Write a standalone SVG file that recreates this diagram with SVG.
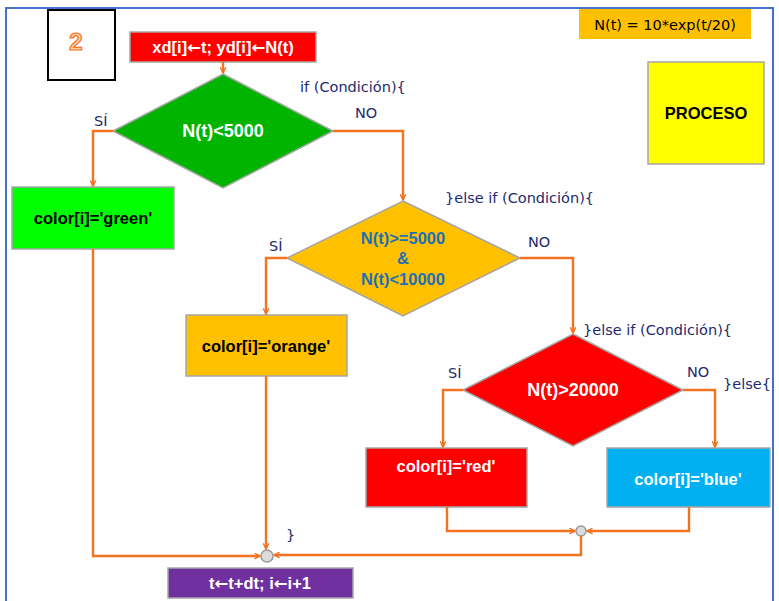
<svg xmlns="http://www.w3.org/2000/svg" width="779" height="601" viewBox="0 0 779 601">
<style>
.shape{stroke:#a6a6a6;stroke-width:1.5}
.lbl{font-family:"Liberation Sans",Arial,sans-serif;font-weight:bold;font-size:16.5px;text-anchor:middle;dominant-baseline:central}
.big{font-size:18px}
.arw{font-family:"DejaVu Sans",sans-serif;font-weight:bold}
.note{font-family:"DejaVu Sans","Noto Sans",sans-serif;font-size:14.5px;fill:#1f2a6e}
.con{fill:none;stroke:#f47320;stroke-width:2.4}
</style>
<defs>
<marker id="ar" viewBox="0 0 10 10" refX="9" refY="5" markerWidth="7" markerHeight="7" orient="auto" markerUnits="userSpaceOnUse">
<polyline points="1,1 9,5 1,9" fill="none" stroke="#f47320" stroke-width="2"/>
</marker>
</defs>
<rect x="0" y="0" width="779" height="601" fill="#ffffff"/>
<rect x="6" y="8" width="767" height="610" fill="none" stroke="#4472c4" stroke-width="2"/>

<g id="num">
<rect x="48" y="10" width="67" height="70" fill="#fff" stroke="#000" stroke-width="2"/>
<text x="76" y="41" font-family="Liberation Sans,Arial,sans-serif" font-weight="bold" font-size="24" text-anchor="middle" dominant-baseline="central" fill="#fbd0a8" stroke="#f47320" stroke-width="1.2">2</text>
</g>

<g id="formula">
<rect x="579" y="9" width="172" height="30" fill="#ffc000"/>
<text x="665" y="25" font-family="DejaVu Sans,sans-serif" font-size="14.5" text-anchor="middle" dominant-baseline="central" fill="#000">N(t) = 10*exp(t/20)</text>
</g>

<g id="proceso">
<rect class="shape" x="648" y="62" width="116" height="102" fill="#ffff00"/>
<text class="lbl" x="706" y="113" fill="#000">PROCESO</text>
</g>

<g id="start">
<rect class="shape" x="130" y="32" width="186" height="30" fill="#ff0000"/>
<text class="lbl" x="223" y="47" fill="#fff">xd[i]<tspan class="arw">←</tspan>t; yd[i]<tspan class="arw">←</tspan>N(t)</text>
</g>

<g id="d1">
<polygon class="shape" points="223,74 333,131 223,188 113,131" fill="#00b400"/>
<text class="lbl big" x="223" y="131" fill="#fff">N(t)&lt;5000</text>
</g>

<g id="green">
<rect class="shape" x="12" y="187" width="162" height="62" fill="#00ff00"/>
<text class="lbl" x="93" y="218" fill="#000">color[i]='green'</text>
</g>

<g id="d2">
<polygon class="shape" points="403,201 520,258 403,316 287,258" fill="#ffc000"/>
<text class="lbl" x="403" y="238" fill="#1f6fb5">N(t)&gt;=5000</text>
<text class="lbl" x="403" y="258" fill="#1f6fb5">&amp;</text>
<text class="lbl" x="403" y="279" fill="#1f6fb5">N(t)&lt;10000</text>
</g>

<g id="orange">
<rect class="shape" x="186" y="315" width="161" height="61" fill="#ffc000"/>
<text class="lbl" x="266" y="346" fill="#000">color[i]='orange'</text>
</g>

<g id="d3">
<polygon class="shape" points="573,334 683,390 573,446 463,390" fill="#ff0000"/>
<text class="lbl big" x="573" y="390" fill="#fff">N(t)&gt;20000</text>
</g>

<g id="red">
<rect class="shape" x="366" y="448" width="161" height="59" fill="#ff0000"/>
<text class="lbl" x="446" y="466" fill="#fff">color[i]='red'</text>
</g>

<g id="blue">
<rect class="shape" x="607" y="448" width="163" height="59" fill="#00b0f0"/>
<text class="lbl" x="688" y="479" fill="#fff">color[i]='blue'</text>
</g>

<g id="join2">
<circle cx="581" cy="531" r="5" fill="#dcdcdc" stroke="#999" stroke-width="1.5"/>
</g>
<g id="join1">
<circle cx="267" cy="556" r="6" fill="#dcdcdc" stroke="#999" stroke-width="1.5"/>
</g>

<g id="end">
<rect class="shape" x="168" y="568" width="185" height="30" fill="#7030a0"/>
<text class="lbl" x="260" y="583" fill="#fff">t<tspan class="arw">←</tspan>t+dt; i<tspan class="arw">←</tspan>i+1</text>
</g>

<g id="connectors">
<path class="con" d="M223,62 V73" marker-end="url(#ar)"/>
<path class="con" d="M113,131 H93 V186" marker-end="url(#ar)"/>
<path class="con" d="M333,131 H403 V200" marker-end="url(#ar)"/>
<path class="con" d="M287,258 H266 V314" marker-end="url(#ar)"/>
<path class="con" d="M520,258 H573 V333" marker-end="url(#ar)"/>
<path class="con" d="M463,390 H443 V447" marker-end="url(#ar)"/>
<path class="con" d="M683,390 H715 V447" marker-end="url(#ar)"/>
<path class="con" d="M447,507 V531 H575" marker-end="url(#ar)"/>
<path class="con" d="M689,507 V531 H587" marker-end="url(#ar)"/>
<path class="con" d="M581,536 V555 H274" marker-end="url(#ar)"/>
<path class="con" d="M93,249 V556 H260" marker-end="url(#ar)"/>
<path class="con" d="M266,376 V549" marker-end="url(#ar)"/>
</g>

<g id="notes">
<text class="note" x="300" y="92">if (Condición){</text>
<text class="note" x="355" y="118">NO</text>
<text class="note" x="94" y="126">SÍ</text>
<text class="note" x="445" y="203">}else if (Condición){</text>
<text class="note" x="269" y="251">SÍ</text>
<text class="note" x="528" y="247">NO</text>
<text class="note" x="583" y="335">}else if (Condición){</text>
<text class="note" x="448" y="378">SÍ</text>
<text class="note" x="687" y="377">NO</text>
<text class="note" x="723" y="389">}else{</text>
<text class="note" x="286" y="540">}</text>
</g>
</svg>
